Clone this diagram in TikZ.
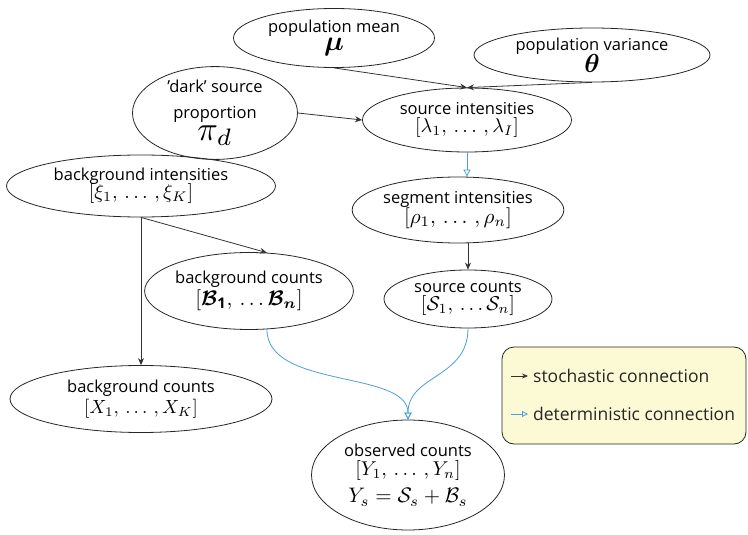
\documentclass[tikz,border=0pt]{standalone}
\usepackage{amsmath,amssymb,bm,graphicx}
\usepackage{fontspec}
\setmainfont{Open Sans}
\usetikzlibrary{shapes.geometric,arrows.meta}
\definecolor{stoch}{HTML}{333333}
\definecolor{detb}{HTML}{4A9FE0}
\definecolor{legfill}{HTML}{FCFAD4}
\newcommand{\szmath}[2]{\scalebox{#1}{\fontsize{10}{12}\selectfont$#2$}}
\begin{document}
\begin{tikzpicture}[x=1pt,y=-1pt,
  nd/.style={ellipse,draw=black!85,line width=0.8pt,inner sep=0pt,align=center,
    font=\fontsize{16.5}{19}\selectfont},
  sto/.style={draw=stoch,line width=0.8pt,-{Stealth[length=7pt,width=6pt]}},
  det/.style={draw=detb,line width=0.8pt,-{Triangle[open,length=7pt,width=7pt]}},
  legtext/.style={anchor=west,inner sep=0pt,font=\fontsize{17.5}{20}\selectfont,text=black!85}]
\useasboundingbox (0,0) rectangle (748,535);
% nodes
\node[nd,minimum width=201pt,minimum height=59pt] (mean) at (334,38)
  {population mean\\[-1pt]\szmath{2.8}{\bm{\mu}}};
\node[nd,minimum width=236pt,minimum height=54pt] (var) at (592,55)
  {population variance\\[-1pt]\szmath{2.6}{\bm{\theta}}};
\node[nd,minimum width=165pt,minimum height=85pt] (dark) at (215,113)
  {\symbol{39}dark\symbol{39} source\\[7pt]proportion\\[3pt]\szmath{3.4}{\pi_d}};
\node[nd,minimum width=209pt,minimum height=64pt] (srcint) at (467,120)
  {source intensities\\[-1pt]\szmath{2.0}{[\lambda_1,\,\ldots\,,\lambda_I]}};
\node[nd,minimum width=269pt,minimum height=62pt] (bgint) at (141,186)
  {background intensities\\[-1pt]\szmath{2.0}{[\xi_1,\,\ldots\,,\xi_K]}};
\node[nd,minimum width=209pt,minimum height=66pt] (segint) at (458,210)
  {segment intensities\\[-1pt]\szmath{2.1}{[\rho_1,\,\ldots\,,\rho_n]}};
\node[nd,minimum width=198pt,minimum height=77pt] (bcnt) at (249,291)
  {background counts\\[1pt]\szmath{2.1}{[\bm{\mathcal{B}}_{\mathbf 1},\,\ldots\bm{\mathcal{B}}_{\bm n}]}};
\node[nd,minimum width=168pt,minimum height=58pt] (scnt) at (468,299)
  {source counts\\[-1pt]\szmath{2.0}{[\mathcal{S}_1,\,\ldots\mathcal{S}_n]}};
\node[nd,minimum width=262pt,minimum height=67pt] (xcnt) at (141,399)
  {background counts\\[2pt]\szmath{1.9}{[X_1,\,\ldots\,,X_K]}};
\node[nd,minimum width=193pt,minimum height=110pt] (obs) at (408,475)
  {observed counts\\[0pt]\szmath{2.0}{[Y_1,\,\ldots\,,Y_n]}\\[7pt]\szmath{2.1}{Y_s=\mathcal{S}_s+\mathcal{B}_s}};
% edges
\draw[sto] (mean.south) -- (srcint.north);
\draw[sto] (var.south) -- (srcint.north);
\draw[sto] (dark.east) -- (srcint.west);
\draw[det] (srcint.south) -- (srcint.south |- segint.north);
\draw[sto] (scnt.north |- segint.south) -- (scnt.north);
\draw[sto] (bgint.south) -- (bcnt.65);
\draw[sto] (bgint.south) -- (bgint.south |- xcnt.north);
\draw[det] (bcnt.-65) .. controls ([yshift=-60pt]bcnt.-65) and ([yshift=50pt]obs.north) .. (obs.north);
\draw[det] (scnt.south) .. controls ([yshift=-50pt]scnt.south) and ([yshift=45pt]obs.north) .. (obs.north);
% legend
\node[draw=black!85,line width=0.8pt,fill=legfill,rounded corners=12pt,
  minimum width=244pt,minimum height=97pt,inner sep=0pt] (leg) at (624,395.5) {};
\coordinate (s1) at (511,376);
\coordinate (s2) at (528,376);
\coordinate (d1) at (511,414);
\coordinate (d2) at (528,414);
\draw[sto,-{Stealth[length=6pt,width=5pt]}] (s1) -- (s2);
\draw[det,-{Triangle[open,length=6pt,width=6pt]}] (d1) -- (d2);
\node[legtext] (lt1) at (533,376) {stochastic connection};
\node[legtext] (lt2) at (533,414) {deterministic connection};
\end{tikzpicture}
\end{document}
